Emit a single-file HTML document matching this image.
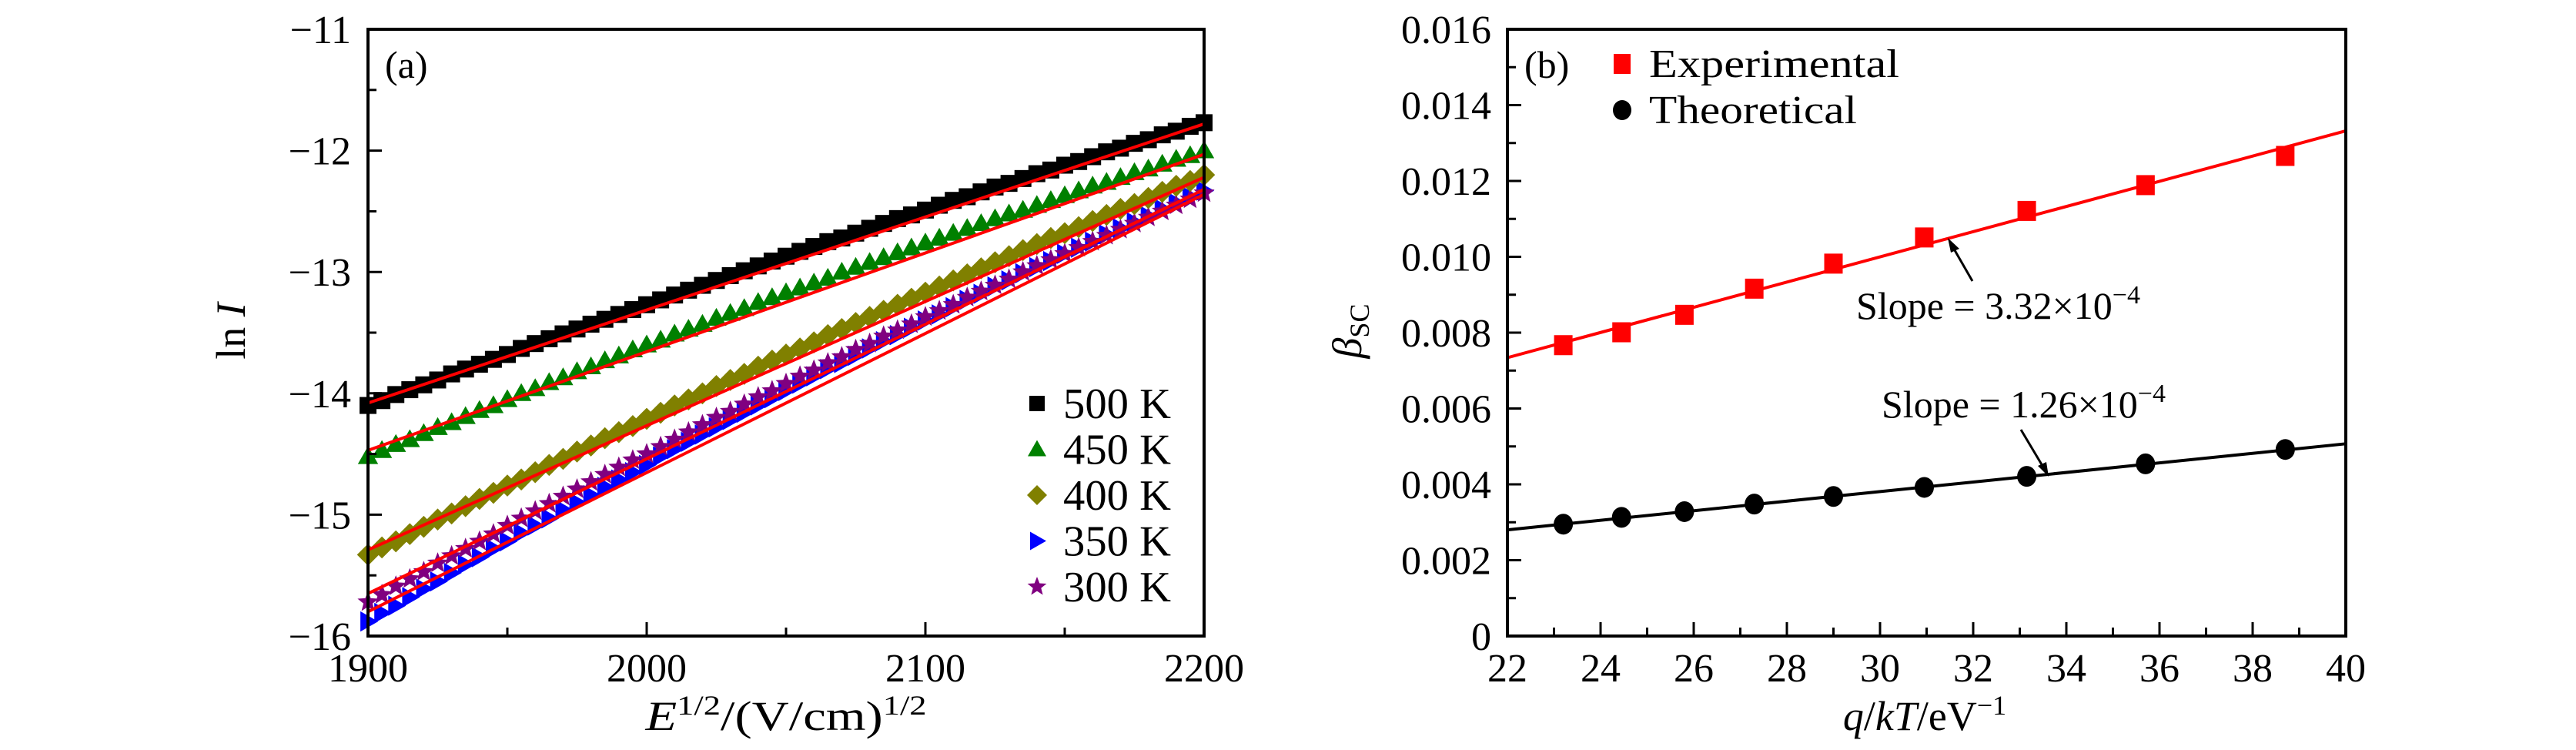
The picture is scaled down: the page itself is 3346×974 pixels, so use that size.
<!DOCTYPE html>
<html><head><meta charset="utf-8"><style>
html,body{margin:0;padding:0;background:#fff;}
svg, svg text{font-family:"Liberation Serif",serif;}
svg{display:block;}
</style></head><body>
<svg id="fig" width="3346" height="974" viewBox="0 0 3346 974" xmlns="http://www.w3.org/2000/svg" style="position:absolute;left:0;top:0" font-family="Liberation Serif, serif">
<g id="pa" font-family="Liberation Serif, serif"></g>
<g id="pb" font-family="Liberation Serif, serif"></g>
</svg>
<script>
// ---------- Panel (a) data ----------
const aXStart = 1900, aXStep = 5;
const s500 = [-14.10,-14.06,-14.01,-13.97,-13.93,-13.89,-13.84,-13.80,-13.76,-13.72,-13.68,-13.63,-13.59,-13.55,-13.51,-13.47,-13.43,-13.39,-13.35,-13.31,-13.27,-13.23,-13.19,-13.15,-13.11,-13.07,-13.03,-12.99,-12.95,-12.91,-12.87,-12.83,-12.79,-12.75,-12.72,-12.68,-12.64,-12.60,-12.56,-12.53,-12.49,-12.45,-12.41,-12.38,-12.34,-12.30,-12.27,-12.23,-12.19,-12.16,-12.12,-12.09,-12.05,-12.01,-11.98,-11.94,-11.91,-11.87,-11.84,-11.80,-11.77];
const s450 = [-14.52,-14.47,-14.42,-14.38,-14.33,-14.28,-14.24,-14.19,-14.14,-14.10,-14.05,-14.00,-13.96,-13.91,-13.87,-13.82,-13.78,-13.73,-13.69,-13.64,-13.60,-13.56,-13.51,-13.47,-13.43,-13.38,-13.34,-13.30,-13.25,-13.21,-13.17,-13.13,-13.09,-13.05,-13.00,-12.96,-12.92,-12.88,-12.84,-12.80,-12.76,-12.72,-12.68,-12.64,-12.60,-12.56,-12.52,-12.49,-12.45,-12.41,-12.37,-12.33,-12.29,-12.26,-12.22,-12.18,-12.15,-12.11,-12.07,-12.04,-12.00];
const s400 = [-15.33,-15.27,-15.22,-15.16,-15.10,-15.04,-14.99,-14.93,-14.87,-14.82,-14.76,-14.71,-14.65,-14.59,-14.54,-14.48,-14.43,-14.37,-14.32,-14.27,-14.21,-14.16,-14.10,-14.05,-14.00,-13.94,-13.89,-13.84,-13.78,-13.73,-13.68,-13.63,-13.58,-13.52,-13.47,-13.42,-13.37,-13.32,-13.27,-13.22,-13.17,-13.12,-13.07,-13.02,-12.97,-12.92,-12.87,-12.82,-12.77,-12.72,-12.68,-12.63,-12.58,-12.53,-12.48,-12.44,-12.39,-12.34,-12.29,-12.25,-12.20];
const s350 = [-15.88,-15.81,-15.75,-15.68,-15.61,-15.55,-15.48,-15.41,-15.35,-15.28,-15.22,-15.15,-15.09,-15.03,-14.96,-14.90,-14.84,-14.77,-14.71,-14.65,-14.59,-14.52,-14.46,-14.40,-14.34,-14.28,-14.22,-14.16,-14.10,-14.04,-13.98,-13.92,-13.86,-13.80,-13.75,-13.69,-13.63,-13.57,-13.52,-13.46,-13.40,-13.35,-13.29,-13.23,-13.18,-13.12,-13.07,-13.01,-12.96,-12.91,-12.85,-12.80,-12.75,-12.69,-12.64,-12.59,-12.54,-12.48,-12.43,-12.38,-12.33];
const s300 = [-15.72,-15.66,-15.59,-15.53,-15.47,-15.40,-15.34,-15.28,-15.22,-15.16,-15.09,-15.03,-14.97,-14.91,-14.85,-14.79,-14.73,-14.67,-14.61,-14.55,-14.50,-14.44,-14.38,-14.32,-14.26,-14.20,-14.15,-14.09,-14.03,-13.98,-13.92,-13.86,-13.81,-13.75,-13.70,-13.64,-13.59,-13.53,-13.48,-13.43,-13.37,-13.32,-13.27,-13.21,-13.16,-13.11,-13.06,-13.00,-12.95,-12.90,-12.85,-12.80,-12.75,-12.70,-12.65,-12.60,-12.55,-12.50,-12.45,-12.40,-12.35];
const fitStartA = [-14.08,-14.47,-15.29,-15.80,-15.65]; // at x=1900
const fitEndA   = [-11.78,-12.03,-12.22,-12.36,-12.32]; // at x=2200
const aLegend = ["500 K","450 K","400 K","350 K","300 K"];
const aXTicks = [1900,2000,2100,2200];
const aYTicks = [-11,-12,-13,-14,-15,-16];

// ---------- Panel (b) data ----------
const bX = [23.2,24.45,25.8,27.3,29.0,30.95,33.15,35.7,38.7];
const bExp = [0.00767,0.00801,0.00847,0.00916,0.00982,0.01051,0.01121,0.01189,0.01266];
const bTheo = [0.00295,0.00313,0.00328,0.00348,0.00368,0.00392,0.00421,0.00454,0.00492];
const fitExp = [0.00734,0.01332]; // at x=22, x=40
const fitTheo = [0.0028,0.00507];
const bXTicks = [22,24,26,28,30,32,34,36,38,40];
const bYTicks = ["0","0.002","0.004","0.006","0.008","0.010","0.012","0.014","0.016"];

const NS="http://www.w3.org/2000/svg";
function mk(parent,tag,attrs,text){const e=document.createElementNS(NS,tag);for(const k in attrs)e.setAttribute(k,attrs[k]);if(text!==undefined){e.textContent=text;e.setAttribute('font-family','Liberation Serif, serif');e.style.fontFamily='"Liberation Serif", serif';}parent.appendChild(e);return e;}
const FS=52;

// ===== Panel A =====
const pa=document.getElementById('pa');
const aL=478,aR=1564,aT=38,aB=826;
const ax=v=>aL+(v-1900)/300*(aR-aL);
const ay=v=>aT+(-11-v)/5*(aB-aT);
const seriesA=[s500,s450,s400,s350,s300];
const colA=["#000","#008000","#808000","#0000ff","#800080"];
function marker(g,type,x,y,c,s){
  let e;
  if(type===0) e=mk(g,'rect',{x:x-s/2,y:y-s/2,width:s,height:s,fill:c});
  else if(type===1) e=mk(g,'polygon',{points:`${x},${y-s*0.6} ${x+s*0.6},${y+s*0.45} ${x-s*0.6},${y+s*0.45}`,fill:c});
  else if(type===2) e=mk(g,'polygon',{points:`${x},${y-s*0.65} ${x+s*0.65},${y} ${x},${y+s*0.65} ${x-s*0.65},${y}`,fill:c});
  else if(type===3) e=mk(g,'polygon',{points:`${x-s*0.45},${y-s*0.6} ${x+s*0.6},${y} ${x-s*0.45},${y+s*0.6}`,fill:c});
  else { let p=[];for(let k=0;k<10;k++){const r=k%2?s*0.28:s*0.65;const a=-Math.PI/2+k*Math.PI/5;p.push((x+r*Math.cos(a)).toFixed(1)+','+(y+r*Math.sin(a)).toFixed(1));}
    e=mk(g,'polygon',{points:p.join(' '),fill:c});}
  return e;
}
const order=[3,4,2,1,0];
order.forEach(si=>{
  const g=mk(pa,'g',{});
  
  
  seriesA[si].forEach((v,i)=>{
    const m=marker(g,si,ax(aXStart+i*aXStep),ay(v),colA[si],22);
    
    
  });
});
fitStartA.forEach((v,i)=>{
  const l=mk(pa,'line',{x1:ax(1900),y1:ay(v),x2:ax(2200),y2:ay(fitEndA[i]),stroke:'#f00','stroke-width':4});
  
  
});
const fa=mk(pa,'rect',{x:aL,y:aT,width:aR-aL,height:aB-aT,fill:'none',stroke:'#000','stroke-width':4});


for(let v=1900;v<=2200;v+=50){
  const len=(v%100===0)?18:11;
  const t=mk(pa,'line',{x1:ax(v),y1:aB,x2:ax(v),y2:aB-len,stroke:'#000','stroke-width':3});
  
  
}
for(let v=-16;v<=-11;v+=0.5){
  const len=(Number.isInteger(v))?18:11;
  const t=mk(pa,'line',{x1:aL,y1:ay(v),x2:aL+len,y2:ay(v),stroke:'#000','stroke-width':3});
  
  
}
aXTicks.forEach(v=>{
  const t=mk(pa,'text',{x:ax(v),y:885,'font-size':FS,'text-anchor':'middle'},String(v));
  
  
});
aYTicks.forEach(v=>{
  const t=mk(pa,'text',{x:456,y:ay(v)+18,'font-size':FS,'text-anchor':'end'},'\u2212'+Math.abs(v));
  
  
});
aLegend.forEach((lab,i)=>{
  const y=524+i*59.5;
  const m=marker(pa,i,1347,y,colA[i],20);
  
  
  const t=mk(pa,'text',{x:1381,y:y+19,'font-size':56,textLength:140,lengthAdjust:'spacingAndGlyphs'},lab);
  
  
});
</script>
<svg style="position:absolute;left:0;top:0" width="3346" height="974" font-family="Liberation Serif, serif">
<text x="500" y="101" font-size="50">(a)</text>
<text x="1021" y="948" font-size="54" text-anchor="middle" textLength="365" lengthAdjust="spacingAndGlyphs"><tspan font-style="italic">E</tspan><tspan font-size="36" dy="-20">1/2</tspan><tspan dy="20">/(V/cm)</tspan><tspan font-size="36" dy="-20">1/2</tspan></text>
<text transform="translate(318,430) rotate(-90)" font-size="54" text-anchor="middle">ln <tspan font-style="italic">I</tspan></text>
<text x="1980" y="101" font-size="50">(b)</text>
<text x="2500" y="948" font-size="54" text-anchor="middle"><tspan font-style="italic">q</tspan>/<tspan font-style="italic">kT</tspan>/eV<tspan font-size="36" dy="-20">−1</tspan></text>
<text transform="translate(1768,430) rotate(-90)" font-size="54" text-anchor="middle"><tspan font-style="italic">β</tspan><tspan font-size="36" dy="10">SC</tspan></text>
<text x="2411" y="414" font-size="50">Slope = 3.32×10<tspan font-size="34" dy="-20">−4</tspan></text>
<text x="2444" y="542" font-size="50">Slope = 1.26×10<tspan font-size="34" dy="-20">−4</tspan></text>
<line x1="2562" y1="365" x2="2535" y2="318" stroke="#000" stroke-width="3"/>
<polygon points="2530,309 2545,323 2534,328" fill="#000"/>
<line x1="2625" y1="558" x2="2656" y2="610" stroke="#000" stroke-width="3"/>
<polygon points="2661,619 2647,605 2658,600" fill="#000"/>
<text x="2142" y="100" font-size="52" textLength="325" lengthAdjust="spacingAndGlyphs">Experimental</text>
<text x="2142" y="160" font-size="52" textLength="270" lengthAdjust="spacingAndGlyphs">Theoretical</text>
</svg>
<script>
// ===== Panel B =====
const pb=document.getElementById('pb');
const bL=1958,bR=3047,bT=38,bB=826;
const bx=v=>bL+(v-22)/18*(bR-bL);
const by=v=>bB-v/0.016*(bB-bT);
const le=mk(pb,'line',{x1:bx(22),y1:by(fitExp[0]),x2:bx(40),y2:by(fitExp[1]),stroke:'#f00','stroke-width':4});


const lt=mk(pb,'line',{x1:bx(22),y1:by(fitTheo[0]),x2:bx(40),y2:by(fitTheo[1]),stroke:'#000','stroke-width':4});


bX.forEach((x,i)=>{
  const r=mk(pb,'rect',{x:bx(x)-12,y:by(bExp[i])-13,width:24,height:26,fill:'#f00'});
  
  
  const c=mk(pb,'ellipse',{cx:bx(x),cy:by(bTheo[i]),rx:12.5,ry:13.5,fill:'#000'});
  
  
});
const fb=mk(pb,'rect',{x:bL,y:bT,width:bR-bL,height:bB-bT,fill:'none',stroke:'#000','stroke-width':4});


for(let v=22;v<=40;v+=1){
  const len=(v%2===0)?18:11;
  const t=mk(pb,'line',{x1:bx(v),y1:bB,x2:bx(v),y2:bB-len,stroke:'#000','stroke-width':3});
  
  
}
for(let k=0;k<=16;k++){
  const v=k*0.001;
  const len=(k%2===0)?18:11;
  const t=mk(pb,'line',{x1:bL,y1:by(v),x2:bL+len,y2:by(v),stroke:'#000','stroke-width':3});
  
  
}
bXTicks.forEach(v=>{
  const t=mk(pb,'text',{x:bx(v),y:885,'font-size':FS,'text-anchor':'middle'},String(v));
  
  
});
bYTicks.forEach(s=>{
  const t=mk(pb,'text',{x:1937,y:by(parseFloat(s))+18,'font-size':FS,'text-anchor':'end'},s);
  
  
});
const lm1=mk(pb,'rect',{x:2096,y:70,width:22,height:26,fill:'#f00'});


const lm2=mk(pb,'ellipse',{cx:2107,cy:143,rx:12,ry:13,fill:'#000'});


</script>
</body></html>
